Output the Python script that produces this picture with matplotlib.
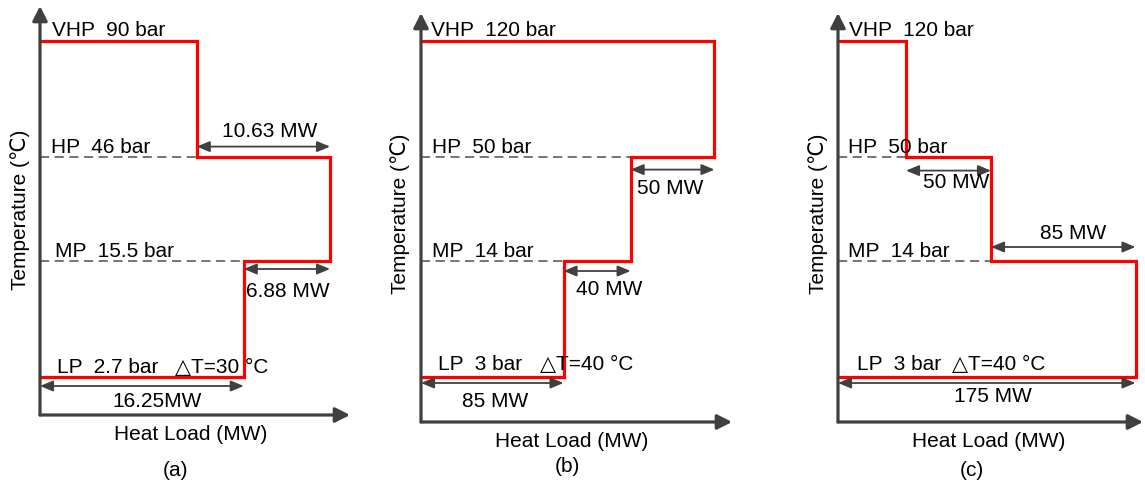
import matplotlib
matplotlib.use("Agg")
import matplotlib.pyplot as plt

W, H = 1145, 483
plt.rcParams['font.family'] = ['Liberation Sans', 'DejaVu Sans']

# ---------------- data ----------------
level_names = ["LP", "MP", "HP", "VHP"]
level_temp = [1.0, 2.0, 2.9, 3.9]          # schematic temperature levels

pressures_a = ["2.7 bar", "15.5 bar", "46 bar", "90 bar"]
pressures_b = ["3 bar", "14 bar", "50 bar", "120 bar"]
pressures_c = ["3 bar", "14 bar", "50 bar", "120 bar"]

loads_a = [16.25, 6.88, 10.63]             # LP, MP, HP heat loads (MW)
loads_b = [85, 40, 50]
loads_c = [175, 85, 50]

direction_a = [1, 1, -1]
direction_b = [1, 1, 1]
direction_c = [1, -1, -1]

load_labels_a = ["16.25MW", "6.88 MW", "10.63 MW"]
load_labels_b = ["85 MW", "40 MW", "50 MW"]
load_labels_c = ["175 MW", "85 MW", "50 MW"]

delta_t = [30, 40, 40]
panel_tags = ["(a)", "(b)", "(c)"]

# ---------------- layout (pixels) ----------------
layouts = [
    dict(x0=40, xtip=350, yaxis=415, ytip=6, s=12.54,
         dim_off=[9, 8, -10],
         dim_txt=[(157, 407), (288, 297), (270, 137)],
         lvl_txt=[(57, 373), (55, 257), (51, 153), (52, 36)],
         dt_txt=(175, 373), ylab=(20, 210), xlab=(191, 440), tag=(175, 471)),
    dict(x0=421, xtip=732, yaxis=422, ytip=13, s=1.677,
         dim_off=[6, 10, 13],
         dim_txt=[(495, 407), (609, 295), (670, 194)],
         lvl_txt=[(438, 370), (432, 257), (432, 153), (431, 36)],
         dt_txt=(540, 370), ylab=(400, 214), xlab=(572, 447), tag=(567, 467)),
    dict(x0=838, xtip=1143, yaxis=422, ytip=13, s=1.70,
         dim_off=[6, -14, 14],
         dim_txt=[(993, 402), (1073, 239), (956, 188)],
         lvl_txt=[(857, 370), (848, 257), (848, 153), (849, 36)],
         dt_txt=(952, 370), ylab=(818, 214), xlab=(989, 447), tag=(972, 471)),
]

panels = [
    (pressures_a, loads_a, direction_a, load_labels_a),
    (pressures_b, loads_b, direction_b, load_labels_b),
    (pressures_c, loads_c, direction_c, load_labels_c),
]

LP_PX = 377
PX_PER_UNIT = 116.0
AX_COLOR = "#404040"
FS = 15

fig = plt.figure(figsize=(W / 100, H / 100), dpi=100)


def ftext(x, y, s, **kw):
    fig.text(x / W, 1 - y / H, s, fontsize=FS, color="black", **kw)


for i, ((press, loads, dirs, llabels), lay) in enumerate(zip(panels, layouts)):
    x0, xtip, yaxis, ytip, s = lay["x0"], lay["xtip"], lay["yaxis"], lay["ytip"], lay["s"]
    ax = fig.add_axes([x0 / W, 1 - yaxis / H, (xtip - x0) / W, (yaxis - ytip) / H])
    xmax = (xtip - x0) / s
    ybot = level_temp[0] - (yaxis - LP_PX) / PX_PER_UNIT
    ytop = level_temp[0] + (LP_PX - ytip) / PX_PER_UNIT
    ax.set_xlim(0, xmax)
    ax.set_ylim(ybot, ytop)
    ax.axis("off")

    yLP, yMP, yHP, yVHP = level_temp
    x1 = dirs[0] * loads[0]
    x2 = x1 + dirs[1] * loads[1]
    x3 = x2 + dirs[2] * loads[2]

    # dashed reference lines
    dash = (0, (6, 3.6))
    ax.plot([0, min(x1, x2)], [yMP, yMP], ls=dash, color="#505050", lw=1.1, clip_on=False)
    ax.plot([0, min(x2, x3)], [yHP, yHP], ls=dash, color="#505050", lw=1.1, clip_on=False)

    # red step curve
    xs = [0, x1, x1, x2, x2, x3, x3, 0]
    ys = [yLP, yLP, yMP, yMP, yHP, yHP, yVHP, yVHP]
    ax.plot(xs, ys, color="#ff0000", lw=2.3, solid_joinstyle="miter", clip_on=False, zorder=3)

    # axes with arrows
    ap = dict(arrowstyle="-|>,head_length=0.55,head_width=0.28", color=AX_COLOR, lw=2.3,
              shrinkA=0, shrinkB=0, mutation_scale=16)
    ax.annotate("", xy=(0, ytop), xytext=(0, ybot), arrowprops=ap, annotation_clip=False)
    ax.annotate("", xy=(xmax, ybot), xytext=(0, ybot), arrowprops=ap, annotation_clip=False)

    # dimension arrows
    dp = dict(arrowstyle="<|-|>,head_length=0.6,head_width=0.25", color=AX_COLOR, lw=1.3,
              shrinkA=0, shrinkB=0, mutation_scale=13)
    spans = [(0, x1, yLP), (x1, x2, yMP), (x2, x3, yHP)]
    for (xa, xb, yl), off in zip(spans, lay["dim_off"]):
        yy = yl - off / PX_PER_UNIT
        ax.annotate("", xy=(xb, yy), xytext=(xa, yy), arrowprops=dp, annotation_clip=False)

    # texts
    for (tx, ty), lab in zip(lay["dim_txt"], llabels):
        ftext(tx, ty, lab, ha="center", va="baseline")
    for (tx, ty), name, p in zip(lay["lvl_txt"], level_names, press):
        ftext(tx, ty, f"{name}  {p}", ha="left", va="baseline")
    ftext(lay["dt_txt"][0], lay["dt_txt"][1], f"△T={delta_t[i]} °C", ha="left", va="baseline")
    ftext(lay["ylab"][0], lay["ylab"][1], "Temperature (℃)", ha="center", va="center", rotation=90)
    ftext(lay["xlab"][0], lay["xlab"][1], "Heat Load (MW)", ha="center", va="baseline")
    ftext(lay["tag"][0], lay["tag"][1], panel_tags[i], ha="center", va="center")

fig.savefig("out.png", dpi=100)
